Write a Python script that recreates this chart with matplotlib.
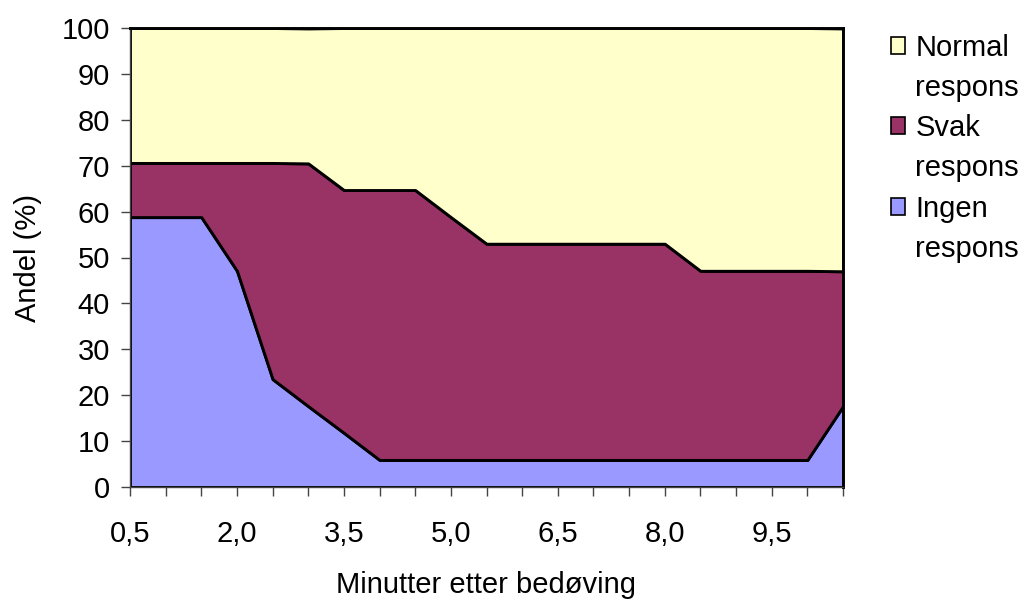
import numpy as np
from matplotlib import pyplot as plt
from matplotlib.patches import Patch

plt.rcParams['font.family'] = ['Liberation Sans', 'DejaVu Sans']

# minutter etter bedøving
minutter = [0.5, 1.0, 1.5, 2.0, 2.5, 3.0, 3.5, 4.0, 4.5, 5.0, 5.5,
            6.0, 6.5, 7.0, 7.5, 8.0, 8.5, 9.0, 9.5, 10.0, 10.5]
ingen = [58.8, 58.8, 58.8, 47.1, 23.5, 17.6, 11.8, 5.9, 5.9, 5.9, 5.9,
         5.9, 5.9, 5.9, 5.9, 5.9, 5.9, 5.9, 5.9, 5.9, 17.6]
svak = [11.8, 11.8, 11.8, 23.5, 47.1, 52.9, 52.9, 58.8, 58.8, 52.9, 47.1,
        47.1, 47.1, 47.1, 47.1, 47.1, 41.2, 41.2, 41.2, 41.2, 29.4]
normal = [29.4, 29.4, 29.4, 29.4, 29.4, 29.4, 35.3, 35.3, 35.3, 41.2, 47.1,
          47.1, 47.1, 47.1, 47.1, 47.1, 52.9, 52.9, 52.9, 52.9, 52.9]
labels = ["Ingen\nrespons", "Svak\nrespons", "Normal\nrespons"]
farger = ["#9999ff", "#993366", "#ffffcc"]

fs = 21

fig = plt.figure(figsize=(10.28, 6), dpi=100)
ax = fig.add_axes([130/1028, 113/600, 713/1028, 459/600])

ax.stackplot(minutter, ingen, svak, normal, colors=farger,
             edgecolor='black', linewidth=2.1)

ax.set_xlim(0.5, 10.5)
ax.set_ylim(0, 100)
ax.set_yticks(range(0, 101, 10))
ax.set_xticks(minutter, minor=True)
hoved = [0.5, 2.0, 3.5, 5.0, 6.5, 8.0, 9.5]
ax.set_xticks(hoved)
ax.set_xticklabels([("%.1f" % v).replace('.', ',') for v in hoved])
ax.tick_params(axis='both', which='both', direction='out', length=6.5, width=1,
               labelsize=fs, color='#444444')
ax.tick_params(axis='x', which='major', pad=17)
ax.tick_params(axis='y', pad=8)
for s in ax.spines.values():
    s.set_linewidth(2.1)
ax.spines['left'].set_color('#444444')
ax.spines['bottom'].set_color('#444444')
ax.spines['left'].set_linewidth(1)
ax.spines['bottom'].set_linewidth(1)

ax.set_xlabel("Minutter etter bedøving", fontsize=fs, labelpad=17)
ax.set_ylabel("Andel (%)", fontsize=fs, labelpad=14)

# legend: one row per text line so the square sits on the first line
handles = []
for i in [2, 1, 0]:
    forste, andre = labels[i].split("\n")
    handles.append(Patch(facecolor=farger[i], edgecolor='black', linewidth=1.2, label=forste))
    handles.append(Patch(facecolor='none', edgecolor='none', label=andre))
fig.legend(handles=handles, loc='upper left', bbox_to_anchor=(876/1028, 1 - 19/600),
           frameon=False, fontsize=fs, handlelength=0.5, handleheight=0.5,
           handletextpad=0.35, labelspacing=0.42, borderpad=0)

fig.savefig("out.png", dpi=100)
